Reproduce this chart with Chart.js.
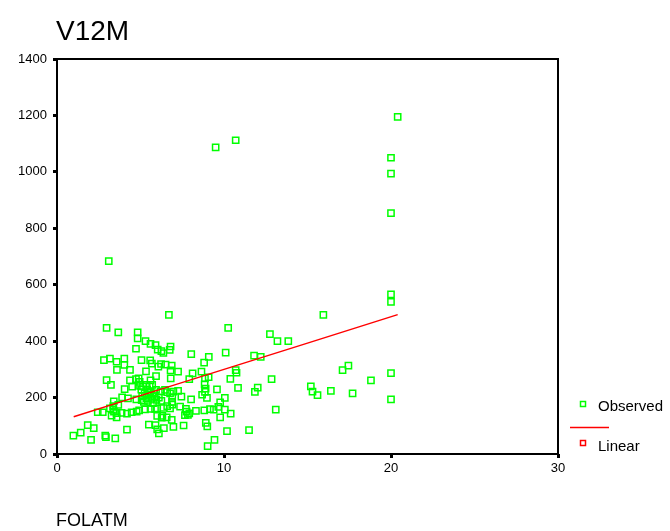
<!DOCTYPE html>
<html><head><meta charset="utf-8">
<script src="https://cdn.jsdelivr.net/npm/chart.js@4"></script>
<style>html,body{margin:0;padding:0;background:#fff}#wrap{position:relative;width:670px;height:531px}</style>
</head><body><div id="wrap"><canvas id="c" width="670" height="531"></canvas></div>
<script>
const folatm = [
 0.98,1.42,1.84,2.2,2.04,2.89,2.93,3.49,4.19,
 2.44,2.74,3.27,3.57,3.17,3.37,3.41,3.57,3.87,4.19,4.47,4.77,4.92,
 3.37,3.67,3.4,3.9,4.25,4.75,5.07,
 4.05,4.5,5.05,4.97,4.95,
 3.23,2.97,4.37,4.73,4.89,5.37,5.6,5.93,5.33,
 3.59,4.37,4.03,4.03,3.57,3.17,2.81,5.06,5.58,5.68,6.07,6.23,6.5,6.87,6.8,
 4.73,4.83,4.83,3.67,2.97,3.1,
 5.3,5.6,5.9,6.03,6.25,6.37,6.75,6.8,6.7,
 5.27,5.6,5.87,6.0,6.37,6.77,7.37,
 5.5,5.9,6.0,6.4,6.97,7.58,6.1,
 6.0,6.31,6.27,6.57,6.87,
 5.93,6.2,6.47,6.6,6.77,6.97,7.25,6.9,7.45,6.89,5.61,
 8.03,8.69,8.98,9.58,10.05,7.72,7.76,7.66,7.84,7.92,8.32,8.82,9.16,9.38,9.66,9.77,9.77,10.4,8.91,9.0,10.18,9.43,9.02,
 8.04,9.09,8.81,10.1,8.12,8.65,7.25,7.92,8.86,9.08,6.81,8.9,8.84,8.86,
 10.25,10.7,10.75,10.38,10.84,12.02,11.85,12.75,13.2,13.85,11.8,12.2,12.85,13.1,11.5,10.05,
 15.2,15.3,15.6,16.4,17.7,17.1,17.45,18.8,20.0,20.0,15.95,
 20.0,20.0,20.0,20.0,20.0,20.4,9.5,10.7,
 5.1,5.25,5.35,5.45,5.5,5.65,5.75,5.85,5.4,5.55,5.2,5.95,5.7,6.1,6.25,5.15,5.8,
 6.6,6.9
];
const v12m = [
 65,76,102,92,50,65,60,55,86,
 148,148,136,130,162,156,150,145,146,143,148,150,155,
 170,174,187,201,197,194,191,
 230,239,228,241,256,
 245,262,261,265,268,245,261,276,293,
 298,298,316,338,327,338,333,333,332,320,310,319,317,313,296,
 373,410,431,431,447,684,
 400,390,386,370,365,358,369,381,493,
 158,160,160,162,163,162,168,
 104,102,87,92,96,101,73,
 135,135,129,130,121,
 227,222,227,219,215,221,224,202,203,185,221,
 194,210,199,229,199,160,150,138,139,144,153,155,159,157,167,183,130,143,110,98,81,50,28,
 354,344,324,359,286,292,292,265,268,272,268,232,247,220,
 447,297,288,266,234,235,220,425,400,400,349,344,265,157,85,157,
 240,221,209,224,215,297,313,261,287,194,493,
 566,539,854,994,1050,1195,1087,1112,
 205,215,198,188,210,195,180,205,228,240,185,192,245,200,188,240,215,
 170,175
];
// Linear fit line
const fitX = [1.0, 5.0, 10.0, 15.0, 20.4];
const fitY = [132, 207, 300, 393, 494];
// Axis ticks
const xTicks = [0, 10, 20, 30];
const yTicks = [0, 200, 400, 600, 800, 1000, 1200, 1400];
const seriesNames = ['Observed', 'Linear'];
const chartTitle = 'V12M';
const xTitle = 'FOLATM';

const FONT = '"Liberation Sans", Arial, sans-serif';
const GREEN = '#00ff00', RED = '#ff0000';

const obsData = folatm.map((x, i) => ({x: x, y: v12m[i]}));
const fitData = fitX.map((x, i) => ({x: x, y: fitY[i]}));

const decor = {
  id: 'decor',
  afterDraw(chart) {
    const ctx = chart.ctx, a = chart.chartArea;
    ctx.save();
    ctx.strokeStyle = '#000';
    ctx.lineWidth = 2;
    ctx.strokeRect(a.left, a.top, a.right - a.left, a.bottom - a.top);
    ctx.fillStyle = '#000';
    ctx.textBaseline = 'alphabetic';
    ctx.textAlign = 'left';
    ctx.font = '28px ' + FONT;
    ctx.fillText(chartTitle, 56, 40);
    ctx.font = '18px ' + FONT;
    ctx.fillText(xTitle, 56, 526);
    // legend
    ctx.lineWidth = 1.5;
    ctx.strokeStyle = GREEN;
    ctx.strokeRect(580.5, 401.5, 5, 5);
    ctx.strokeStyle = RED;
    ctx.beginPath(); ctx.moveTo(570, 427.5); ctx.lineTo(609, 427.5); ctx.stroke();
    ctx.strokeRect(580.5, 440.5, 5, 5);
    ctx.font = '15px ' + FONT;
    ctx.textBaseline = 'middle';
    ctx.fillText(seriesNames[0], 598, 407);
    ctx.fillText(seriesNames[1], 598, 447);
    ctx.restore();
  }
};

new Chart(document.getElementById('c'), {
  type: 'scatter',
  data: {
    datasets: [
      {label: seriesNames[1], data: fitData, showLine: true, borderColor: RED, borderWidth: 1.5,
       pointRadius: 0, fill: false, order: 1},
      {label: seriesNames[0], data: obsData, pointStyle: 'rect', pointRadius: 4.4, borderWidth: 1.5,
       borderColor: GREEN, backgroundColor: 'rgba(0,0,0,0)', pointHoverRadius: 4.4, order: 2}
    ]
  },
  options: {
    responsive: false, animation: false, devicePixelRatio: 1,
    layout: {padding: {top: 59, right: 112, left: 0, bottom: 0}},
    plugins: {legend: {display: false}, title: {display: false}, tooltip: {enabled: false}},
    events: [],
    scales: {
      x: {
        type: 'linear', min: 0, max: 30,
        afterBuildTicks: s => { s.ticks = xTicks.map(v => ({value: v})); },
        afterFit: s => { s.height = 77; },
        ticks: {color: '#000', font: {family: FONT, size: 13}, padding: 3, maxRotation: 0,
                callback: v => String(v)},
        grid: {drawOnChartArea: false, drawTicks: true, tickLength: 4, tickWidth: 3, tickColor: '#000'},
        border: {display: false}
      },
      y: {
        type: 'linear', min: 0, max: 1400,
        afterBuildTicks: s => { s.ticks = yTicks.map(v => ({value: v})); },
        afterFit: s => { s.width = 57; },
        ticks: {color: '#000', font: {family: FONT, size: 13}, padding: 6,
                callback: v => String(v)},
        grid: {drawOnChartArea: false, drawTicks: true, tickLength: 4, tickWidth: 3, tickColor: '#000'},
        border: {display: false}
      }
    }
  },
  plugins: [decor]
});
</script>
</body></html>
